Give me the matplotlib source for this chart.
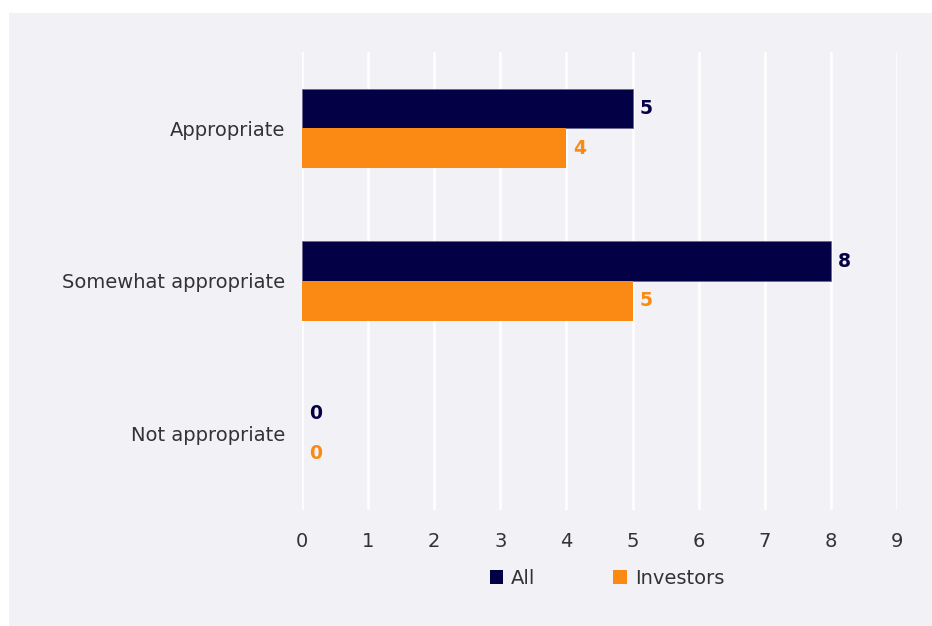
import matplotlib.pyplot as plt
from matplotlib.patches import Rectangle
import numpy as np

categories = ["Appropriate", "Somewhat appropriate", "Not appropriate"]
all_vals = [5, 8, 0]
investor_vals = [4, 5, 0]
series_names = ["All", "Investors"]

navy = "#030046"
orange = "#fb8a15"
panel = "#f2f1f6"
text_col = "#333333"

plt.rcParams['font.family'] = ['DejaVu Sans']

fig = plt.figure(figsize=(9.32, 6.26), dpi=100)
fig.patch.set_facecolor("white")
# grey card behind the chart
fig.patches.append(Rectangle((9 / 932, 0), 1 - 9 / 932, 1 - 13 / 626,
                             transform=fig.transFigure, facecolor=panel,
                             edgecolor="none", zorder=-5))

ax = fig.add_axes([302 / 932, 1 - 510 / 626, 595 / 932, 458 / 626])
ax.set_zorder(2)
ax.set_facecolor(panel)

y = np.arange(len(categories))
h = 0.26
b1 = ax.barh(y - h / 2, all_vals, height=h, color=navy, linewidth=0.6,
             label=series_names[0], zorder=3)
b2 = ax.barh(y + h / 2, investor_vals, height=h, color=orange,
             label=series_names[1], zorder=3)
# thin light outline on the dark bars, skipped for empty ones
for bar, v in zip(b1, all_vals):
    bar.set_edgecolor("#6a6890" if v > 0 else "none")

for yy, v in zip(y - h / 2, all_vals):
    ax.annotate(str(v), (v, yy), xytext=(5, 0), textcoords="offset points",
                va="center", ha="left", color=navy, fontsize=13.5,
                fontweight="bold")
for yy, v in zip(y + h / 2, investor_vals):
    ax.annotate(str(v), (v, yy), xytext=(5, 0), textcoords="offset points",
                va="center", ha="left", color=orange, fontsize=13.5,
                fontweight="bold")

ax.set_xlim(0, 9)
ax.set_ylim(2.5, -0.5)
ax.set_xticks(range(10))
ax.set_yticks(y)
ax.set_yticklabels(categories)
ax.tick_params(axis="both", length=0, labelsize=14, colors=text_col)
ax.tick_params(axis="x", pad=16)
ax.tick_params(axis="y", pad=12)
ax.grid(axis="x", color="white", linewidth=1.8, zorder=1)
ax.set_axisbelow(True)
for s in ax.spines.values():
    s.set_visible(False)

leg = fig.legend(handles=[b1, b2], labels=series_names, loc="center",
                 bbox_to_anchor=(607 / 932, 1 - 578 / 626), ncol=2,
                 frameon=False, fontsize=14, handlelength=0.7,
                 handleheight=0.7, handletextpad=0.4, columnspacing=4.0,
                 labelcolor=text_col)
for hnd in leg.legend_handles:
    hnd.set_edgecolor("none")

fig.savefig("out.png", dpi=100, facecolor=fig.get_facecolor())
